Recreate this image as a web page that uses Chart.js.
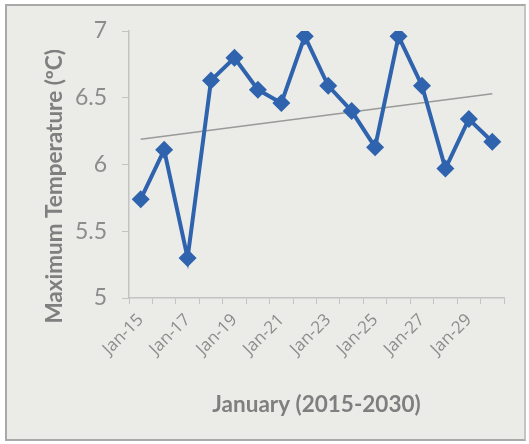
<!DOCTYPE html>
<html>
<head>
<meta charset="utf-8">
<script src="https://cdn.jsdelivr.net/npm/chart.js@4.4.0/dist/chart.umd.min.js"></script>
<style>
  html, body { margin: 0; padding: 0; background: #ffffff; }
  #wrap {
    position: absolute; left: 0; top: 0; width: 529px; height: 444px;
  }
  #frame {
    position: absolute; left: 5px; top: 4px; width: 521px; height: 437px;
    box-sizing: border-box; border: 2px solid #a9a9a9; border-right-color: #c4c4c4;
    background: #ebebe7;
  }
  canvas { position: absolute; left: 0; top: 0; }
</style>
</head>
<body>
<div id="wrap">
  <div id="frame"></div>
  <canvas id="myChart" width="529" height="444"></canvas>
</div>
<script>
var labels = ['Jan-15', 'Jan-16', 'Jan-17', 'Jan-18', 'Jan-19', 'Jan-20', 'Jan-21', 'Jan-22',
              'Jan-23', 'Jan-24', 'Jan-25', 'Jan-26', 'Jan-27', 'Jan-28', 'Jan-29', 'Jan-30'];
var maxTemp = [5.74, 6.11, 5.30, 6.63, 6.80, 6.56, 6.46, 6.96,
               6.59, 6.40, 6.13, 6.96, 6.59, 5.97, 6.34, 6.17];
// trend line, only the two ends
var trend = [6.19, null, null, null, null, null, null, null,
             null, null, null, null, null, null, null, 6.53];

var ctx = document.getElementById('myChart').getContext('2d');
var gray = '#8c8c8c';

var chart = new Chart(ctx, {
  type: 'line',
  data: {
    labels: labels,
    datasets: [{
      label: 'Max temp',
      data: maxTemp,
      borderColor: '#2f63ae',
      backgroundColor: '#2f63ae',
      borderWidth: 4,
      pointStyle: 'rectRot',
      pointRadius: 9,
      pointBorderWidth: 0,
      tension: 0,
      fill: false
    }, {
      label: 'Trend',
      data: trend,
      borderColor: '#9a9a9a',
      borderWidth: 1.5,
      pointRadius: 0,
      spanGaps: true,
      fill: false
    }]
  },
  options: {
    responsive: false,
    animation: false,
    layout: { padding: { left: 40, top: 31, right: 25, bottom: 20 } },
    plugins: {
      legend: { display: false },
      tooltip: { enabled: false }
    },
    scales: {
      x: {
        offset: true,
        grid: { offset: true, drawOnChartArea: false, tickLength: 6, color: '#c3c3c3' },
        border: { color: '#c3c3c3', width: 1.5 },
        ticks: {
          autoSkip: false,
          maxRotation: 45,
          minRotation: 45,
          padding: 6,
          color: gray,
          font: { family: 'Open Sans', size: 17 },
          callback: function(v, i) { return i % 2 === 0 ? labels[i] : ''; }
        },
        title: {
          display: true,
          text: 'January (2015-2030)',
          color: '#7f7f7f',
          font: { family: 'Lato', size: 22.5, weight: 'bold' },
          padding: { top: 4, bottom: 6 }
        },
        afterFit: function(scale) { scale.height = 126; }
      },
      y: {
        min: 5,
        max: 7,
        ticks: {
          stepSize: 0.5,
          padding: 15,
          color: gray,
          font: { family: 'Lato', size: 23 },
          callback: function(v) { return String(v); }
        },
        grid: { drawOnChartArea: false, tickLength: 7, color: '#c3c3c3' },
        border: { color: '#c3c3c3', width: 1.5 },
        title: {
          display: true,
          text: 'Maximum Temperature (ºC)\u00a0\u00a0\u00a0\u00a0\u00a0\u00a0\u00a0\u00a0',
          color: '#7f7f7f',
          font: { family: 'Lato', size: 22.5, weight: 'bold' },
          padding: { top: 1, bottom: 4 }
        },
        afterFit: function(scale) { scale.width = 89; }
      }
    }
  }
});
</script>
</body>
</html>
